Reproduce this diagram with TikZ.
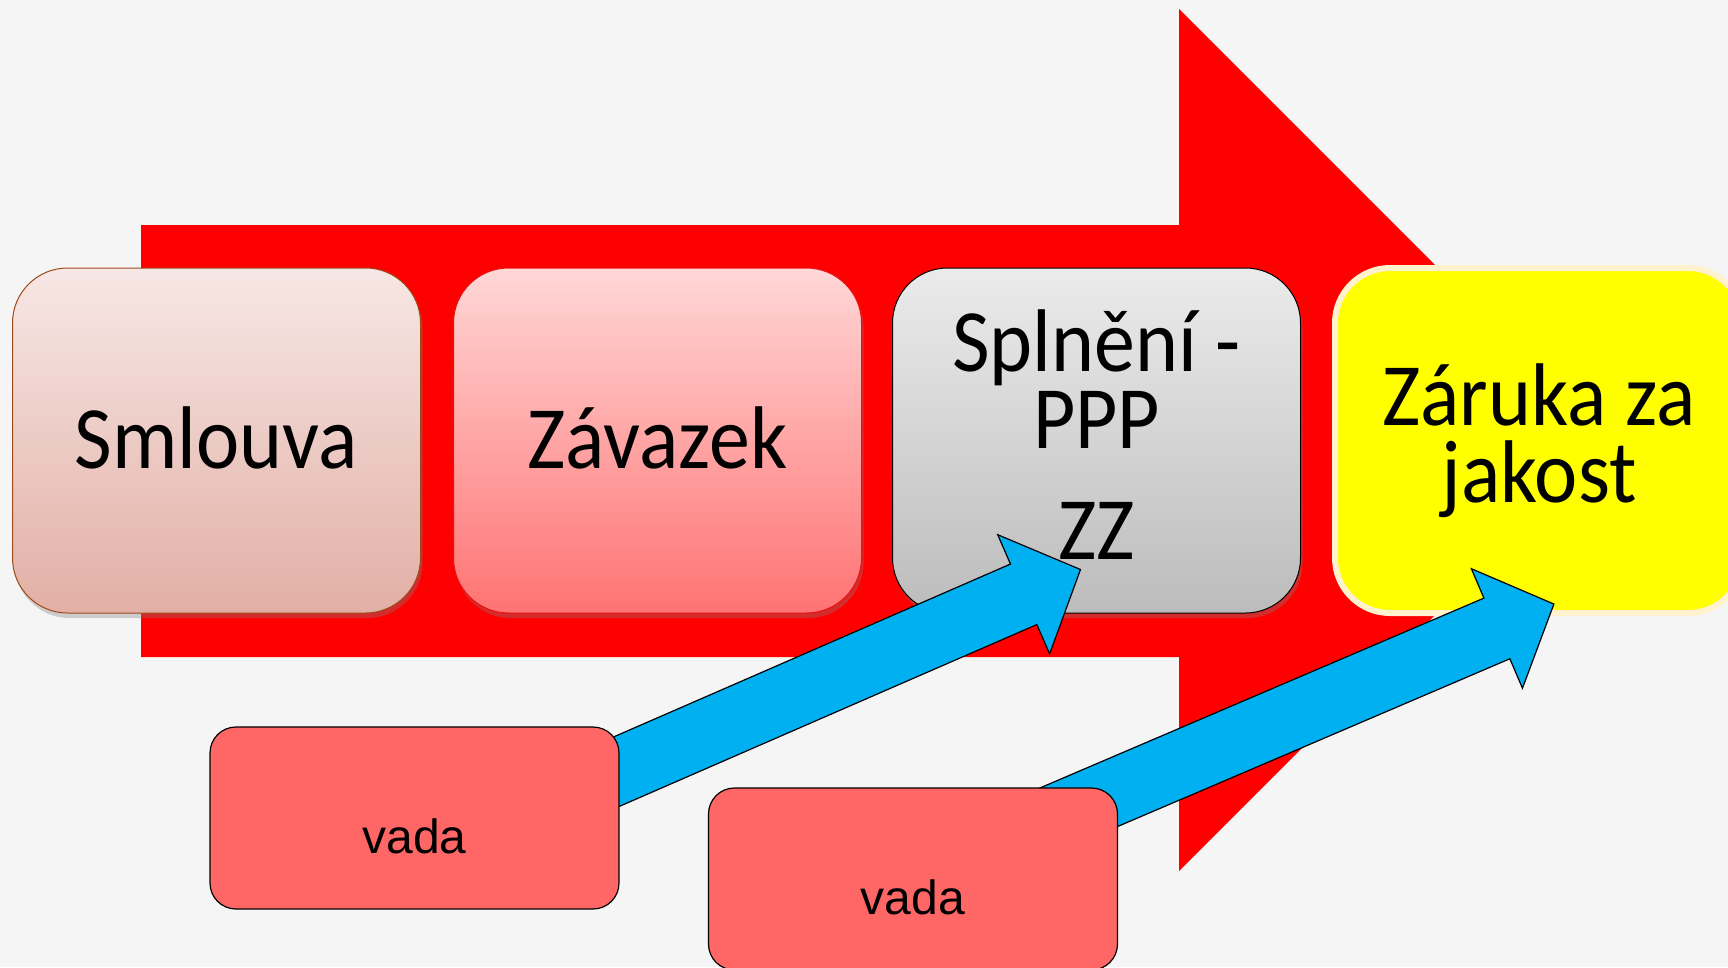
\documentclass[tikz,border=0pt]{standalone}
\usepackage{fontspec}
\setmainfont{Carlito}
\newfontfamily\boxfont[FakeStretch=0.92]{Carlito}
\newfontfamily\vadafont{Liberation Sans}
\usetikzlibrary{positioning,shadows,calc}

\definecolor{bggray}{HTML}{F5F5F5}
\definecolor{smltop}{HTML}{F7E7E5}
\definecolor{smlbot}{HTML}{E2AFA5}
\definecolor{smlborder}{HTML}{9C4A1A}
\definecolor{zavtop}{HTML}{FFD7D7}
\definecolor{zavbot}{HTML}{FF7373}
\definecolor{zavborder}{HTML}{E81010}
\definecolor{spltop}{HTML}{EBEBEB}
\definecolor{splbot}{HTML}{BCBCBC}
\definecolor{zarglow}{HTML}{FFF2CC}
\definecolor{zaryellow}{HTML}{FFFF00}
\definecolor{vadared}{HTML}{FF6666}
\definecolor{arrowblue}{HTML}{00B0F0}

\begin{document}
\begin{tikzpicture}[x=1pt,y=-1pt,
  stage/.style={rounded corners=55pt, minimum width=408pt, minimum height=345pt,
    inner sep=0pt, align=center, line width=1pt,
    font=\boxfont\fontsize{89}{77}\selectfont},
  stage shadow/.style={drop shadow={shadow xshift=2pt, shadow yshift=-5pt, opacity=.35}},
  vada/.style={draw=black, fill=vadared, rounded corners=26pt, minimum width=409pt,
    minimum height=182pt, line width=1.2pt, text height=70pt, text depth=0pt,
    font=\vadafont\fontsize{48}{56}\selectfont},
  fat arrow/.style={draw=black, fill=arrowblue, line width=1.2pt}]

  \useasboundingbox (0,0) rectangle (1728,967);
  \fill[bggray] (0,0) rectangle (1728,967);

  % big red arrow
  \fill[red] (141,225) -- (1179,225) -- (1179,9) -- (1610,440) -- (1179,871)
    -- (1179,657) -- (141,657) -- cycle;

  \node[stage, stage shadow, draw=smlborder, top color=smltop, bottom color=smlbot,
    text depth=6pt] (sml) at (216.5,440.5) {Smlouva};
  \node[stage, stage shadow, draw=zavborder, top color=zavtop, bottom color=zavbot,
    text depth=6pt, right=32pt of sml] (zav) {Závazek};
  \node[stage, stage shadow, draw=black, top color=spltop, bottom color=splbot,
    text depth=12pt, right=30pt of zav] (spl) {Splnění -\\PPP\\[34pt]ZZ};
  \node[stage, draw=zarglow, line width=6pt, fill=zaryellow,
    right=31pt of spl] (zar) {Záruka za\\jakost};

  % defects
  \coordinate (v1) at (414.5,818);
  \coordinate (v2) at (913,879);
  \coordinate (tail1) at ($(v1)+(68,12)$);
  \coordinate (tail2) at ($(v2)+(40,-18)$);
  \coordinate (hit1) at ($(spl.south)+(-16,-44)$);
  \coordinate (hit2) at ($(zar.south)+(15,-12)$);

  \foreach \tail/\hit in {tail1/hit1, tail2/hit2}
    \draw[fat arrow] let \p1=($(\hit)-(\tail)$), \n1={atan2(\y1,\x1)},
      \n2={veclen(\x1,\y1)} in [shift={(\tail)}, rotate=\n1]
      (0,-33) -- (\n2-62,-33) -- (\n2-62,-65) -- (\n2,0) -- (\n2-62,65)
      -- (\n2-62,33) -- (0,33) -- cycle;

  \node[vada] (vada1) at (v1) {vada};
  \node[vada] (vada2) at (v2) {vada};

\end{tikzpicture}
\end{document}
